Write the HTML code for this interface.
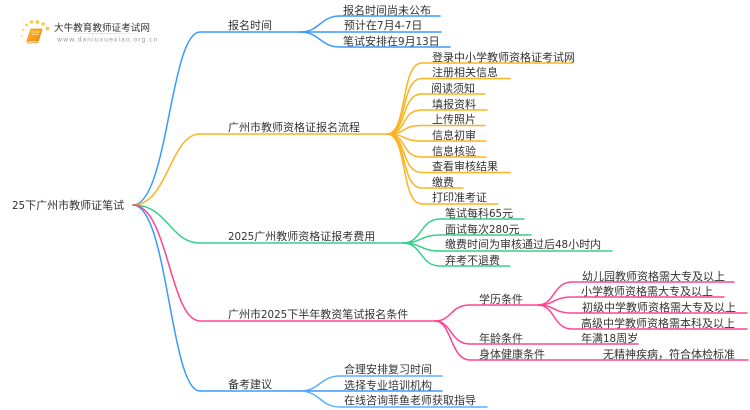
<!DOCTYPE html>
<html><head><meta charset="utf-8">
<style>
html,body{margin:0;padding:0;background:#fff;width:750px;height:410px;overflow:hidden}
svg{display:block;filter:blur(0.35px)}
text{font-family:"DejaVu Sans","WenQuanYi Zen Hei","Noto Sans CJK SC",sans-serif;font-size:11px;fill:#333}
tspan{font-size:10.300px}
path{fill:none;stroke-linecap:round}
.b path{stroke:#3a9aff;stroke-width:1.5}
.o path{stroke:#fbb422;stroke-width:1.5}
.g path{stroke:#35d08a;stroke-width:1.5}
.p path{stroke:#ff4590;stroke-width:1.5}
</style></head><body>
<svg width="750" height="410" viewBox="0 0 750 410" xmlns="http://www.w3.org/2000/svg">
<defs><linearGradient id="bk" x1="0" y1="0" x2="1" y2="1"><stop offset="0" stop-color="#ffc52e"/><stop offset="1" stop-color="#f0820f"/></linearGradient>
<linearGradient id="ul" x1="0" x2="1"><stop offset="0" stop-color="#fff"/><stop offset=".5" stop-color="#ddd"/><stop offset="1" stop-color="#fff"/></linearGradient></defs>

<!-- logo -->
<g fill="#fbc64a">
<circle cx="47.500" cy="28.500" r="2"/><circle cx="43" cy="24" r="1.700"/><circle cx="37.500" cy="22" r="1.900"/><circle cx="31.500" cy="22" r="1.700"/><circle cx="26.500" cy="25" r="1.300"/><circle cx="23" cy="30" r="1.100" opacity=".8"/><circle cx="22" cy="36" r="1" opacity=".6"/><circle cx="24" cy="42" r=".9" opacity=".4"/>
</g>
<path d="M31 29 L42 29 L38.500 41 L27 41 Z" style="fill:url(#bk);stroke:#ee8a14;stroke-width:.8"/>
<path d="M27 41 Q27 43 29 43 L38 42.500" style="stroke:#f0a040;stroke-width:1"/>
<path d="M32.500 32 L39 32 M32 34.500 L38 34.500" style="stroke:#ffe9b0;stroke-width:.8"/>
<text x="54" y="31" style="font-size:9.600px;fill:#333">大牛教育教师证考试网</text>
<rect x="56" y="33" width="94" height="1" fill="url(#ul)"/>
<text x="57" y="41.500" style="font-size:6.300px;fill:#999;letter-spacing:.9px">www.daniuxuexiao.org.cn</text>

<!-- root -->
<text x="12" y="209"><tspan>25</tspan>下广州市教师证笔试</text>

<g class="b">
<path d="M133 205 C168 205 170 32 200 32 L300 32"/>
<path d="M133 205 C168 205 170 391 200 391 L300 391"/>
<path d="M300 32 C320 32 320 16 340 16 L440 16"/>
<path d="M300 32 L441 32"/>
<path d="M300 32 C320 32 320 47 340 47 L450 47"/>
<path d="M300 391 C320 391 320 376 340 376 L442 376" style="stroke:#5aaeff"/>
<path d="M300 391 L442 391"/>
<path d="M300 391 C320 391 320 407 340 407 L487 407" style="stroke:#5aaeff"/>
</g>
<g class="o">
<path d="M133 205 C168 205 170 134 200 134 L387 134"/>
<path d="M387 134 C408 134 400 63 422 63 L573 63"/>
<path d="M387 134 C408 134 400 78.500 422 78.500 L510 78.500"/>
<path d="M387 134 C408 134 400 94 422 94 L485 94"/>
<path d="M387 134 C408 134 400 110 422 110 L487 110"/>
<path d="M387 134 C408 134 400 125.500 422 125.500 L485 125.500"/>
<path d="M387 134 C408 134 400 141 422 141 L486 141"/>
<path d="M387 134 C408 134 400 157 422 157 L486 157"/>
<path d="M387 134 C408 134 400 172.500 422 172.500 L510 172.500"/>
<path d="M387 134 C408 134 400 188 422 188 L463 188"/>
<path d="M387 134 C408 134 400 204 422 204 L498 204"/>
</g>
<g class="g">
<path d="M133 205 C168 205 170 243 200 243 L403 243"/>
<path d="M403 243 C422 243 420 219 440 219 L524 219"/>
<path d="M403 243 C422 243 420 235 440 235 L531 235"/>
<path d="M403 243 C422 243 420 251 440 251 L612 251"/>
<path d="M403 243 C422 243 420 266 440 266 L510 266"/>
</g>
<g class="p">
<path d="M133 205 C168 205 170 321 200 321 L435 321"/>
<path d="M435 321 C452 321 450 305 470 305 L538 305"/>
<path d="M435 321 C452 321 450 344 470 344 L638 344"/>
<path d="M435 321 C452 321 450 360 470 360 L748 360"/>
<path d="M538 305 C555 305 553 282 572 282 L734 282"/>
<path d="M538 305 C555 305 553 297 572 297 L724 297"/>
<path d="M538 305 C555 305 553 313 572 313 L747 313"/>
<path d="M538 305 C555 305 553 329 572 329 L747 329"/>
</g>

<text x="228" y="29">报名时间</text>
<text x="343" y="14">报名时间尚未公布</text>
<text x="344" y="29">预计在<tspan>7</tspan>月<tspan>4-7</tspan>日</text>
<text x="343" y="45">笔试安排在<tspan>9</tspan>月<tspan>13</tspan>日</text>

<text x="228" y="131">广州市教师资格证报名流程</text>
<text x="432" y="61">登录中小学教师资格证考试网</text>
<text x="432" y="76">注册相关信息</text>
<text x="431" y="92">阅读须知</text>
<text x="432" y="108">填报资料</text>
<text x="432" y="123">上传照片</text>
<text x="432" y="139">信息初审</text>
<text x="432" y="155">信息核验</text>
<text x="432" y="170">查看审核结果</text>
<text x="432" y="186">缴费</text>
<text x="432" y="201">打印准考证</text>

<text x="228" y="240"><tspan>2025</tspan>广州教师资格证报考费用</text>
<text x="445" y="217">笔试每科<tspan>65</tspan>元</text>
<text x="445" y="233">面试每次<tspan>280</tspan>元</text>
<text x="445" y="248">缴费时间为审核通过后<tspan>48</tspan>小时内</text>
<text x="445" y="264">弃考不退费</text>

<text x="228" y="318">广州市<tspan>2025</tspan>下半年教资笔试报名条件</text>
<text x="479" y="303">学历条件</text>
<text x="479" y="342">年龄条件</text>
<text x="479" y="358">身体健康条件</text>
<text x="582" y="280">幼儿园教师资格需大专及以上</text>
<text x="581" y="295">小学教师资格需大专及以上</text>
<text x="582" y="311">初级中学教师资格需大专及以上</text>
<text x="581" y="327">高级中学教师资格需本科及以上</text>
<text x="581" y="342">年满<tspan>18</tspan>周岁</text>
<text x="603" y="358">无精神疾病，符合体检标准</text>

<text x="228" y="388">备考建议</text>
<text x="344" y="373">合理安排复习时间</text>
<text x="344" y="389">选择专业培训机构</text>
<text x="344" y="404">在线咨询菲鱼老师获取指导</text>
</svg>
</body></html>
